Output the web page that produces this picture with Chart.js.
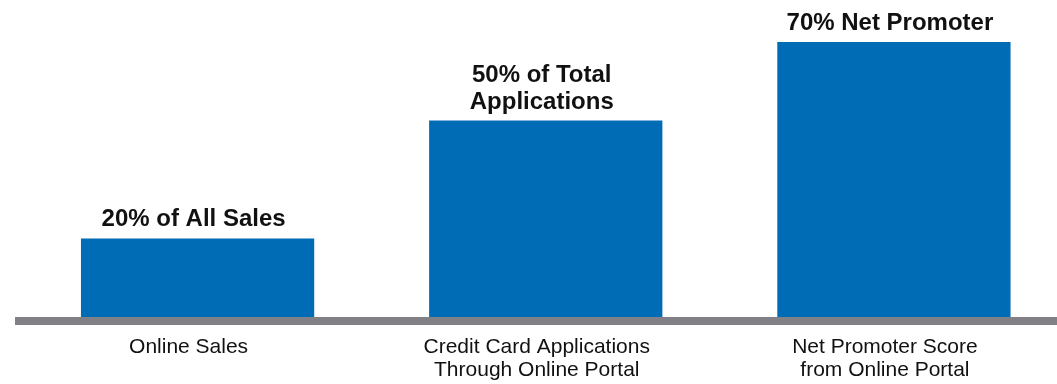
<!DOCTYPE html>
<html>
<head>
<meta charset="utf-8">
<script src="https://cdn.jsdelivr.net/npm/chart.js@4"></script>
<style>
    html, body { margin: 0; padding: 0; overflow: hidden; background: #fff; }
    #wrap { position: relative; width: 1068px; height: 384px; }
</style>
</head>
<body>
<div id="wrap"><canvas id="channelChart"></canvas></div>
<script>
// Parts du canal en ligne : 3 barres + libellés en gras au-dessus.
const CATEGORIES = [
    ['Online Sales'],
    ['Credit Card Applications', 'Through Online Portal'],
    ['Net Promoter Score', 'from Online Portal']
];
const VALUES = [20, 50, 70];
const BAR_LABELS = [
    ['20% of All Sales'],
    ['50% of Total', 'Applications'],
    ['70% Net Promoter']
];

const FONT = '"Liberation Sans", Arial, sans-serif';

// ligne grise de base + libellés au-dessus des barres
const decorations = {
    id: 'decorations',
    afterDatasetsDraw(chart) {
        const { ctx, chartArea } = chart;
        ctx.save();
        ctx.fillStyle = '#808086';
        ctx.fillRect(15, chartArea.bottom, chart.width - 15, 8);

        ctx.fillStyle = '#111';
        ctx.font = 'bold 24px ' + FONT;
        ctx.textAlign = 'center';
        ctx.textBaseline = 'alphabetic';
        chart.getDatasetMeta(0).data.forEach((bar, i) => {
            const lines = BAR_LABELS[i];
            lines.forEach((line, j) => {
                const y = bar.y - 12 - (lines.length - 1 - j) * 27;
                ctx.fillText(line, bar.x - 4, y);
            });
        });
        ctx.restore();
    }
};

new Chart(document.getElementById('channelChart').getContext('2d'), {
    type: 'bar',
    data: {
        labels: CATEGORIES,
        datasets: [{
            data: VALUES,
            backgroundColor: '#006cb5',
            borderWidth: 0,
            categoryPercentage: 1,
            barPercentage: 0.67
        }]
    },
    options: {
        responsive: true, maintainAspectRatio: false, animation: false,
        layout: { padding: { left: 23.5, right: 0, top: 0, bottom: 0 } },
        plugins: { legend: { display: false }, tooltip: { enabled: false } },
        scales: {
            x: {
                grid: { display: false, drawTicks: false },
                border: { display: false },
                ticks: {
                    color: '#111', padding: 19, labelOffset: -9, maxRotation: 0,
                    font: { family: FONT, size: 21, lineHeight: 1.1 }
                },
                afterFit: s => { s.height = 67; }
            },
            y: { display: false, min: 0, max: 80.7 }
        }
    },
    plugins: [decorations]
});
</script>
</body>
</html>
